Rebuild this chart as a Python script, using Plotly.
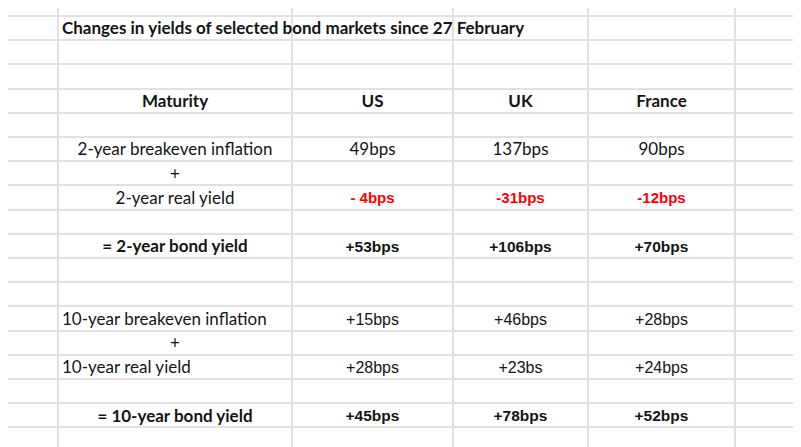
import plotly.graph_objects as go

# datos de la tabla
title = "Changes in yields of selected bond markets since 27 February"
header = ["Maturity", "US", "UK", "France"]
labels = ["2-year breakeven inflation", "+", "2-year real yield", "= 2-year bond yield",
          "10-year breakeven inflation", "+", "10-year real yield", "= 10-year bond yield"]
us = ["49bps", "", "- 4bps", "+53bps", "+15bps", "", "+28bps", "+45bps"]
uk = ["137bps", "", "-31bps", "+106bps", "+46bps", "", "+23bs", "+78bps"]
france = ["90bps", "", "-12bps", "+70bps", "+28bps", "", "+24bps", "+52bps"]

# filas de la hoja donde va cada línea
rows = [5, 6, 7, 9, 12, 13, 14, 16]
label_style = ["center", "center", "center", "bold", "left", "center", "left", "bold"]
value_style = ["aptos", "", "red", "bold", "arial", "", "arial", "bold"]

# geometría de la hoja
col_edges = [58, 292, 453, 588, 735]
row_top, row_h = 16, 24.2
row_edges = [row_top + row_h * k for k in range(-1, 18)]
col_mid = [(col_edges[i] + col_edges[i + 1]) / 2 for i in range(4)]

# la página html deja 8px de margen en el body: se compensa con el rango
OFF = 8


def yc(k):
    # el texto de excel queda un poco por debajo del centro de la celda
    return row_top + row_h * (k + 0.5) + 2


INK = "#141414"
RED = "#ff0000"
SANS = "Lato, 'Open Sans', sans-serif"
ARIAL = "'Liberation Sans', Arial, sans-serif"

fig = go.Figure()


def add_text(xs, ys, txt, font, size, color, weight, pos="middle center"):
    fig.add_trace(go.Scatter(x=xs, y=ys, text=txt, mode="text", textposition=pos,
                             textfont=dict(family=font, size=size, color=color, weight=weight),
                             hoverinfo="skip", showlegend=False))


# título
add_text([62], [yc(0)], [title], SANS, 17, INK, "bold", "middle right")

# encabezados
add_text(col_mid, [yc(3)] * 4, header, SANS, 17, INK, "bold")

# etiquetas de la primera columna
for lab, k, st in zip(labels, rows, label_style):
    if st == "left":
        add_text([62], [yc(k)], [lab], SANS, 17, INK, "normal", "middle right")
    else:
        add_text([col_mid[0]], [yc(k)], [lab], SANS, 17, INK,
                 "bold" if st == "bold" else "normal")

# valores por país
for ci, vals in enumerate([us, uk, france]):
    for v, k, st in zip(vals, rows, value_style):
        if not v:
            continue
        if st == "aptos":
            add_text([col_mid[ci + 1]], [yc(k)], [v], SANS, 17, INK, "normal")
        elif st == "red":
            add_text([col_mid[ci + 1]], [yc(k)], [v], ARIAL, 15, RED, "bold")
        elif st == "bold":
            add_text([col_mid[ci + 1]], [yc(k)], [v], ARIAL, 15.5, INK, "bold")
        else:
            add_text([col_mid[ci + 1]], [yc(k)], [v], ARIAL, 16, INK, "normal")

grid = dict(showgrid=True, gridcolor="#e1e1e1", gridwidth=1.5, zeroline=False,
            showticklabels=False, ticks="", showline=False, fixedrange=True)

fig.update_layout(width=801, height=447, margin=dict(l=0, r=0, t=0, b=0),
                  plot_bgcolor="white", paper_bgcolor="white",
                  xaxis=dict(range=[OFF, 801 + OFF], tickvals=col_edges, **grid),
                  yaxis=dict(range=[447 + OFF, OFF], tickvals=row_edges, **grid))

fig.write_html("out.html")
